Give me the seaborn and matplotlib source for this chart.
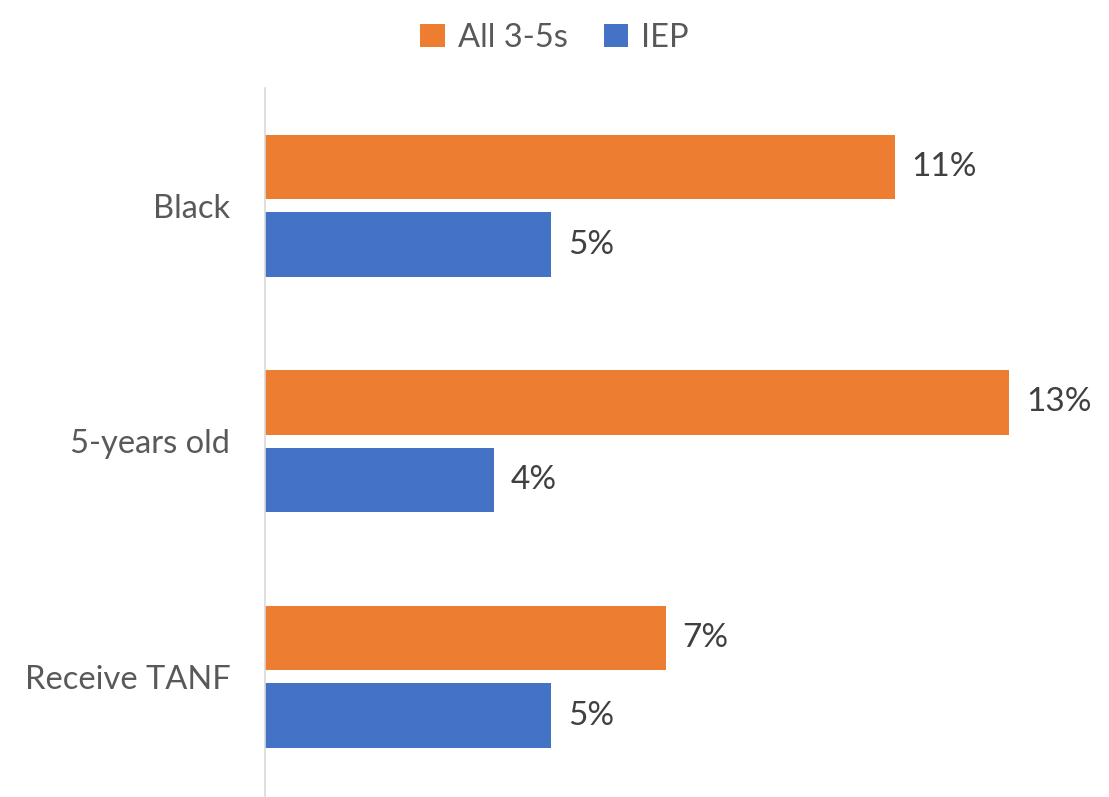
import matplotlib
matplotlib.use("Agg")
import matplotlib.pyplot as plt
import seaborn as sns
import pandas as pd

categories = ["Black", "5-years old", "Receive TANF"]
series_names = ["All 3-5s", "IEP"]
all_35 = [11, 13, 7]
iep = [5, 4, 5]
colors = ["#ED7D31", "#4472C4"]

df = pd.DataFrame({
    "cat": categories * 2,
    "series": [series_names[0]] * 3 + [series_names[1]] * 3,
    "val": all_35 + iep,
})

sns.set_theme(style="white")
plt.rcParams["font.family"] = ["Lato", "DejaVu Sans"]

fig = plt.figure(figsize=(11.09, 7.97), dpi=100)
ax = fig.add_axes([265 / 1109, 0.0, 1 - 265 / 1109 - 0.01, 1 - 88 / 797])

sns.barplot(data=df, y="cat", x="val", hue="series", orient="h",
            palette=colors, saturation=1, width=0.66, gap=0.17,
            linewidth=0, ax=ax, legend=True)

ax.set_xlim(0, 14.55)
ax.set_ylim(2.5 + 0.01, -0.5)
ax.set_xlabel("")
ax.set_ylabel("")
ax.set_xticks([])
for s in ["top", "right", "bottom"]:
    ax.spines[s].set_visible(False)
ax.spines["left"].set_color("#D9D9D9")
ax.spines["left"].set_linewidth(1.2)
ax.tick_params(axis="y", length=0, pad=25, labelsize=23.5, labelcolor="#595959")

for cont in ax.containers:
    ax.bar_label(cont, labels=[f"{int(v)}%" for v in cont.datavalues],
                 padding=12, fontsize=24, color="#404040")

handles, labels = ax.get_legend_handles_labels()
ax.legend_.remove()
fig.legend(handles, labels, loc="upper center", bbox_to_anchor=(0.5, 1.0),
           ncol=2, frameon=False, fontsize=23.5, labelcolor="#595959",
           handlelength=0.75, handleheight=0.75, handletextpad=0.4,
           columnspacing=1.1, borderaxespad=0.3)

fig.savefig("out.png", dpi=100)
